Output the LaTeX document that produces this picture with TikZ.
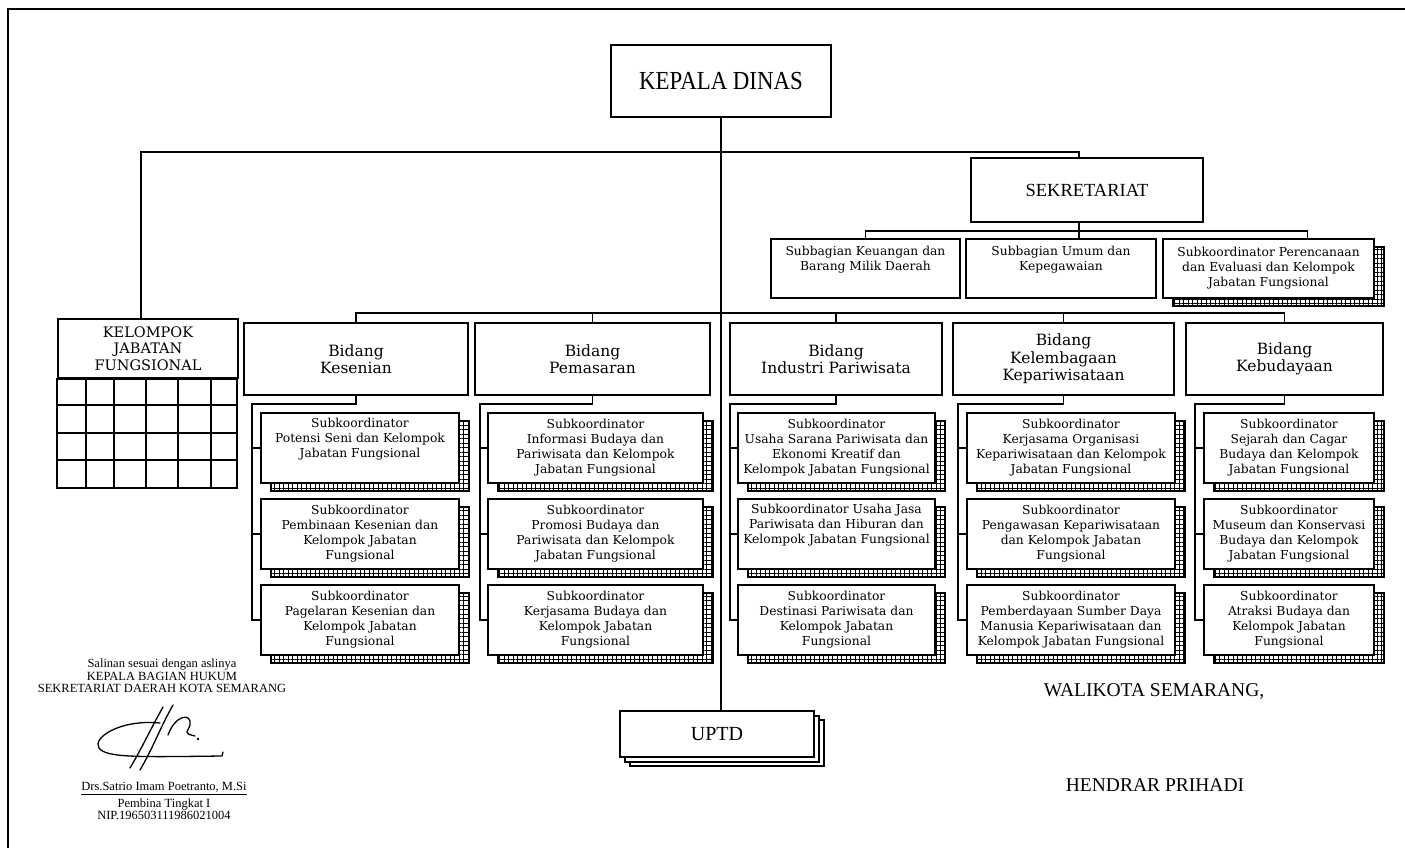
\documentclass[tikz,border=0pt]{standalone}
\usepackage{fontspec}
\setmainfont{Liberation Serif}
\newfontfamily\boxfont{DejaVu Serif}
\newfontfamily\headfont[FakeStretch=0.88]{Liberation Serif}
\usetikzlibrary{positioning,shadows,patterns.meta}

\begin{document}
\begin{tikzpicture}[x=1pt,y=-1pt,line width=1.8pt,
  orgbox/.style={draw,line width=2pt,fill=white,inner sep=2pt},
  bidangbox/.style={orgbox,anchor=north west,minimum height=72pt,align=center,font=\boxfont\fontsize{15.5}{17.5}\selectfont},
  subbagbox/.style={orgbox,anchor=north west,minimum height=59pt,align=center,font=\boxfont\fontsize{12.3}{15}\selectfont},
  gridshadow/.style={general shadow={shadow xshift=10pt,shadow yshift=-8pt,draw,line width=2pt,
      pattern={Hatch[distance=4.5pt,angle=0,line width=0.9pt]}}},
  subkbox/.style={subbagbox,gridshadow,minimum height=70pt},
  uptdstack/.style={general shadow={shadow xshift=10pt,shadow yshift=-9pt,draw,line width=1.6pt,fill=white},
      general shadow={shadow xshift=5pt,shadow yshift=-5pt,draw,line width=1.6pt,fill=white}}]
\useasboundingbox (0,0) rectangle (1405,848);
\draw[line width=1.5pt] (8,848) -- (8,9) -- (1405,9);

% top level
\node[orgbox,minimum width=220pt,minimum height=72pt,font=\headfont\fontsize{26}{28}\selectfont] (kadis) at (721,81) {KEPALA DINAS};
\node[orgbox,minimum width=232pt,minimum height=64pt,font=\fontsize{18.5}{20}\selectfont] (sek) at (1087,190) {SEKRETARIAT};
\node[orgbox,uptdstack,minimum width=194pt,minimum height=46pt,font=\fontsize{20}{22}\selectfont] (uptd) at (717,734) {UPTD};

% sekretariat
\node[subbagbox,minimum width=189pt] (sb1) at (770,238) {Subbagian Keuangan dan\\Barang Milik Daerah\\ \strut};
\node[subbagbox,minimum width=190pt] (sb2) at (965,238) {Subbagian Umum dan\\Kepegawaian\\ \strut};
\node[subbagbox,gridshadow,minimum width=211pt] (sb3) at (1162,238) {Subkoordinator Perencanaan\\dan Evaluasi dan Kelompok\\Jabatan Fungsional};

% kelompok jabatan fungsional
\node[orgbox,anchor=north west,minimum width=180pt,minimum height=59pt,align=center,font=\boxfont\fontsize{14.5}{16.5}\selectfont] (kjf) at (57,318) {KELOMPOK\\JABATAN\\FUNGSIONAL};
\coordinate (kjfend) at (237,488);
\draw[line width=2pt] (kjf.south west) rectangle (kjfend);
\foreach \gx in {86,114,146,178,211}
  \draw[line width=2pt] (\gx,377) -- (\gx,488);
\foreach \gy in {405,433,460}
  \draw[line width=2pt] (57,\gy) -- (237,\gy);

% bidang
\node[bidangbox,minimum width=224pt] (kes) at (243,322) {Bidang\\Kesenian};
\node[bidangbox,minimum width=235pt] (pem) at (474,322) {Bidang\\Pemasaran};
\node[bidangbox,minimum width=212pt] (ind) at (729,322) {Bidang\\Industri Pariwisata};
\node[bidangbox,minimum width=221pt] (lem) at (952,322) {Bidang\\Kelembagaan\\Kepariwisataan};
\node[bidangbox,minimum width=197pt] (bud) at (1185,322) {Bidang\\Kebudayaan};

% subkoordinator
\node[subkbox,minimum width=198pt] (kes1) at (260,412) {Subkoordinator\\Potensi Seni dan Kelompok\\Jabatan Fungsional\\ \strut};
\node[subkbox,minimum width=198pt,below=14pt of kes1] (kes2) {Subkoordinator\\Pembinaan Kesenian dan\\Kelompok Jabatan\\Fungsional};
\node[subkbox,minimum width=198pt,below=14pt of kes2] (kes3) {Subkoordinator\\Pagelaran Kesenian dan\\Kelompok Jabatan\\Fungsional};

\node[subkbox,minimum width=215pt] (pem1) at (487,412) {Subkoordinator\\Informasi Budaya dan\\Pariwisata dan Kelompok\\Jabatan Fungsional};
\node[subkbox,minimum width=215pt,below=14pt of pem1] (pem2) {Subkoordinator\\Promosi Budaya dan\\Pariwisata dan Kelompok\\Jabatan Fungsional};
\node[subkbox,minimum width=215pt,below=14pt of pem2] (pem3) {Subkoordinator\\Kerjasama Budaya dan\\Kelompok Jabatan\\Fungsional};

\node[subkbox,minimum width=197pt] (ind1) at (737,412) {Subkoordinator\\Usaha Sarana Pariwisata dan\\Ekonomi Kreatif dan\\Kelompok Jabatan Fungsional};
\node[subkbox,minimum width=197pt,below=14pt of ind1] (ind2) {Subkoordinator Usaha Jasa\\Pariwisata dan Hiburan dan\\Kelompok Jabatan Fungsional\\ \strut};
\node[subkbox,minimum width=197pt,below=14pt of ind2] (ind3) {Subkoordinator\\Destinasi Pariwisata dan\\Kelompok Jabatan\\Fungsional};

\node[subkbox,minimum width=208pt] (lem1) at (966,412) {Subkoordinator\\Kerjasama Organisasi\\Kepariwisataan dan Kelompok\\Jabatan Fungsional};
\node[subkbox,minimum width=208pt,below=14pt of lem1] (lem2) {Subkoordinator\\Pengawasan Kepariwisataan\\dan Kelompok Jabatan\\Fungsional};
\node[subkbox,minimum width=208pt,below=14pt of lem2] (lem3) {Subkoordinator\\Pemberdayaan Sumber Daya\\Manusia Kepariwisataan dan\\Kelompok Jabatan Fungsional};

\node[subkbox,minimum width=170pt] (bud1) at (1203,412) {Subkoordinator\\Sejarah dan Cagar\\Budaya dan Kelompok\\Jabatan Fungsional};
\node[subkbox,minimum width=170pt,below=14pt of bud1] (bud2) {Subkoordinator\\Museum dan Konservasi\\Budaya dan Kelompok\\Jabatan Fungsional};
\node[subkbox,minimum width=170pt,below=14pt of bud2] (bud3) {Subkoordinator\\Atraksi Budaya dan\\Kelompok Jabatan\\Fungsional};

% connectors
\draw (kadis.south) -- (kadis.south |- uptd.north);
\coordinate (topbar) at (1079,152);
\draw ([xshift=-7pt]kjf.north) |- (topbar) -- (topbar |- sek.north);
\coordinate (sbar) at (1079,231);
\draw (sbar |- sek.south) -- (sbar |- sb2.north);
\draw (sb1.north) |- (sbar) -| ([xshift=39pt]sb3.north);
\coordinate (bbar) at (721,313);
\draw (kes.north) |- (bbar) -| (bud.north);
\foreach \b in {pem,ind,lem}
  \draw (\b.north) -- (\b.north |- bbar);
\foreach \c/\sx in {kes/252,pem/480,ind/730,lem/958,bud/1195}{
  \coordinate (\c sp) at (\sx,404);
  \draw (\c.south) |- (\c sp) |- (\c3.west);
  \draw (\c sp) |- (\c1.west);
  \draw (\c sp) |- (\c2.west);
}

% pengesahan
\node[align=center,inner sep=0pt,font=\fontsize{12.5}{12.5}\selectfont] (salinan) at (162,676) {Salinan sesuai dengan aslinya\\KEPALA BAGIAN HUKUM\\SEKRETARIAT DAERAH KOTA SEMARANG};
\node[align=center,inner sep=0pt,font=\fontsize{12.5}{12.5}\selectfont] (pejabat) at (164,801) {\underline{Drs.Satrio Imam Poetranto, M.Si}\\[3pt]Pembina Tingkat I\\NIP.196503111986021004};
\node[font=\fontsize{19.5}{22}\selectfont] (wali) at (1154,692) {WALIKOTA SEMARANG,};
\node[font=\fontsize{19.5}{22}\selectfont] (hendrar) at (1155,785) {HENDRAR PRIHADI};

% paraf
\draw[line width=1.3pt,line cap=round,line join=round]
  (160,723) .. controls (120,719) and (92,738) .. (99,748) .. controls (106,758) and (140,757) .. (222,756) -- (223,752);
\draw[line width=1.3pt,line cap=round] (163,707) .. controls (150,730) and (142,748) .. (130,768);
\draw[line width=1.3pt,line cap=round] (173,705) .. controls (160,728) and (152,750) .. (140,770);
\draw[line width=1.3pt,line cap=round,line join=round]
  (168,735) .. controls (175,715) and (192,712) .. (190,725) .. controls (188,732) and (182,733) .. (195,736);
\fill (198,739) circle (1.3pt);
\end{tikzpicture}
\end{document}
